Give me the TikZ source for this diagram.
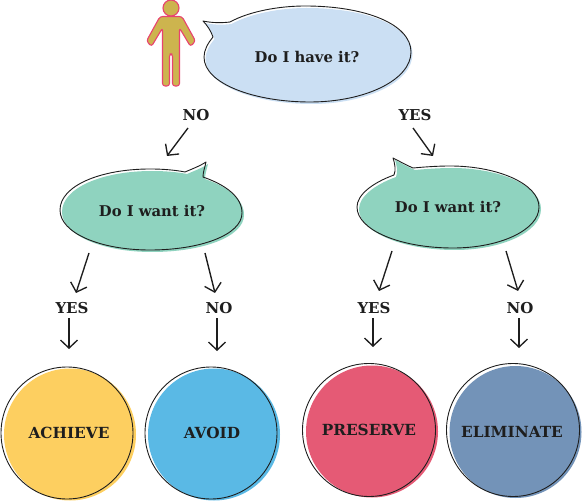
\documentclass[tikz,border=0pt]{standalone}
\usepackage{fontspec}
\setmainfont{DejaVu Serif}
\usetikzlibrary{arrows.meta}
\definecolor{bubbleblue}{HTML}{CBDFF3}
\definecolor{bubblegreen}{HTML}{8FD3BF}
\definecolor{cyellow}{HTML}{FDCF60}
\definecolor{cblue}{HTML}{5AB9E5}
\definecolor{cred}{HTML}{E55A75}
\definecolor{cslate}{HTML}{7393B8}
\definecolor{ink}{HTML}{1E1E1E}
\definecolor{persontan}{HTML}{CDB44E}
\definecolor{personpink}{HTML}{E8436F}
\tikzset{
  outline/.style={draw=ink,line width=0.9pt,line join=round},
  question/.style={font=\bfseries\fontsize{14.8}{16}\selectfont,text=ink,inner sep=0pt},
  answer/.style={font=\bfseries\fontsize{15}{16}\selectfont,text=ink,inner sep=0pt},
  result/.style={font=\bfseries\fontsize{15.3}{16}\selectfont,text=ink,inner sep=0pt},
  flow/.style={draw=ink,line width=1.35pt,-{Straight Barb[length=8pt,width=17pt,line width=1.35pt]}},
  person/.style={draw=personpink,fill=persontan,line width=1.1pt,line join=round},
}
\newcommand{\talkA}{(203,21) .. controls (212,23) and (222,23) .. (230,22)
  .. controls (250,11) and (280,6) .. (305,6)
  .. controls (365,6) and (411,24) .. (411,52)
  .. controls (411,80) and (365,102) .. (310,102)
  .. controls (255,102) and (204,84) .. (204,57)
  .. controls (204,50) and (208,43) .. (213,37)
  .. controls (211,31) and (207,25) .. (203,21) -- cycle}
\newcommand{\talkB}{(206,162) .. controls (205,167) and (203,172) .. (203,177)
  .. controls (226,185) and (242,197) .. (242,213)
  .. controls (242,235) and (200,250) .. (150,250)
  .. controls (100,250) and (60,233) .. (60,210)
  .. controls (60,186) and (100,169) .. (150,169)
  .. controls (163,169) and (175,170) .. (185,172)
  .. controls (192,169) and (200,166) .. (206,162) -- cycle}
\newcommand{\talkC}{(393,158) .. controls (395,164) and (396,170) .. (394,175)
  .. controls (372,183) and (357,195) .. (357,207)
  .. controls (357,230) and (400,248) .. (453,248)
  .. controls (500,248) and (539,230) .. (539,207)
  .. controls (539,184) and (498,166) .. (450,166)
  .. controls (437,166) and (424,167) .. (413,168)
  .. controls (406,165) and (399,161) .. (393,158) -- cycle}
\begin{document}
\begin{tikzpicture}[x=1pt,y=-1pt]
\useasboundingbox (0,0) rectangle (583,502);
% person
\path[person] (171,8) circle (8);
\path[person,rounded corners=2.6pt] (160,16.5) -- (182,16.5) -- (195.5,41) -- (190.5,46.5) -- (179.5,28) -- (179.5,86) -- (172.5,86) -- (172.5,54) -- (169.5,54) -- (169.5,86) -- (162.5,86) -- (162.5,28) -- (151.5,46.5) -- (146.5,41) -- cycle;
% bubbles
\fill[bubbleblue,shift={(1.5,2)}] \talkA;
\path[outline] \talkA;
\fill[bubblegreen,shift={(2,2)}] \talkB;
\path[outline] \talkB;
\fill[bubblegreen,shift={(2,2)}] \talkC;
\path[outline] \talkC;
% circles
\fill[cyellow] (70,434.5) circle (66);
\path[outline] (67,433) circle (66);
\fill[cblue] (214,434.5) circle (66);
\path[outline] (211,433) circle (66);
\fill[cred] (372,431.5) circle (66);
\path[outline] (369,430) circle (66.5);
\fill[cslate] (515.5,432) circle (66);
\path[outline] (513,430) circle (66.5);
% texts
\node[question] (have) at (307,57) {Do I have it?};
\node[question] (wantL) at (152,211) {Do I want it?};
\node[question] (wantR) at (448,207) {Do I want it?};
\node[answer] (no0) at (196,115) {NO};
\node[answer] (yes0) at (415,115) {YES};
\node[answer] (yes1) at (72,308) {YES};
\node[answer] (no1) at (219,308) {NO};
\node[answer] (yes2) at (374,308) {YES};
\node[answer] (no2) at (520,308) {NO};
\node[result] (achieve) at (69,433) {ACHIEVE};
\node[result] (avoid) at (212,433) {AVOID};
\node[result] (preserve) at (369,430) {PRESERVE};
\node[result] (eliminate) at (512,432) {ELIMINATE};
% connector ends
\coordinate (a0s) at (188,128); \coordinate (a0e) at (167,156);
\coordinate (b0s) at (413,128); \coordinate (b0e) at (433,156);
\coordinate (a1s) at (89,253); \coordinate (a1e) at (76,293);
\coordinate (a2s) at (205,253); \coordinate (a2e) at (215,293);
\coordinate (a3s) at (392,251); \coordinate (a3e) at (379,291);
\coordinate (a4s) at (506,251); \coordinate (a4e) at (518,291);
\coordinate (c1s) at (69,318); \coordinate (c1e) at (69,349);
\coordinate (c2s) at (217,318); \coordinate (c2e) at (217,351);
\coordinate (c3s) at (373,318); \coordinate (c3e) at (373,347);
\coordinate (c4s) at (519,318); \coordinate (c4e) at (519,348);
\foreach \s/\e in {a0s/a0e,b0s/b0e,a1s/a1e,a2s/a2e,a3s/a3e,a4s/a4e,c1s/c1e,c2s/c2e,c3s/c3e,c4s/c4e}
  \draw[flow] (\s) -- (\e);
\end{tikzpicture}
\end{document}
